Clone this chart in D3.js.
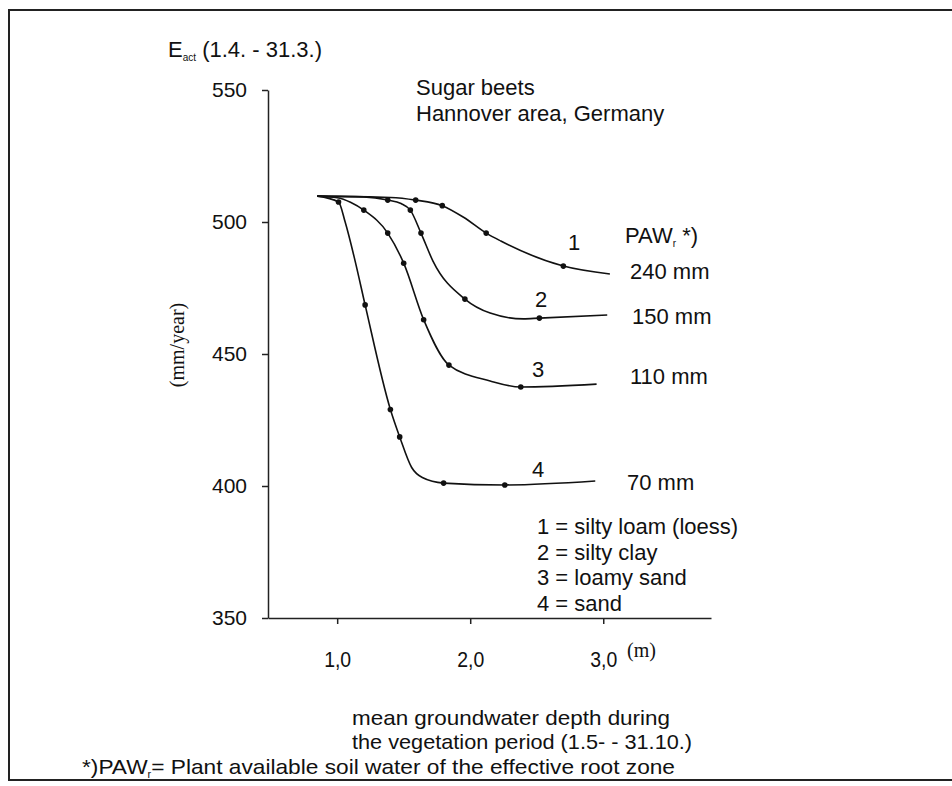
<!DOCTYPE html>
<html>
<head>
<meta charset="utf-8">
<script src="https://cdn.jsdelivr.net/npm/d3@7"></script>
<style>
  body { margin: 0; background: #fff; }
  svg { display: block; }
  .lbl { font-family: "Liberation Sans", Arial, sans-serif; font-size: 22px; fill: #111; }
  .narrow { font-family: "Liberation Sans", Arial, sans-serif; font-size: 21px; fill: #111; }
  .serif { font-family: "Liberation Serif", "Times New Roman", serif; font-size: 20px; fill: #111; }
</style>
</head>
<body>
<svg id="viz"></svg>
<script>
// soil types, curve number and plant available water
var curveIds = ["1", "2", "3", "4"];
var pawLabels = ["240 mm", "150 mm", "110 mm", "70 mm"];
var soilNames = ["silty loam (loess)", "silty clay", "loamy sand", "sand"];

var yTicks = [350, 400, 450, 500, 550];
var xTicks = [1, 2, 3];
var xTickLabels = ["1,0", "2,0", "3,0"];

// fitted curves
var curve1X = [0.85, 1.40, 1.59, 1.79, 1.95, 2.12, 2.23, 2.70, 3.05];
var curve1Y = [509.8, 509.3, 508.3, 506.2, 501.8, 495.8, 492.8, 483.3, 480.3];
var curve2X = [0.85, 1.20, 1.38, 1.48, 1.55, 1.63, 1.72, 1.96, 2.15, 2.40, 2.52, 3.03];
var curve2Y = [509.8, 509.5, 508.3, 507.0, 504.5, 495.8, 485.2, 470.8, 465.5, 463.3, 463.6, 464.8];
var curve3X = [0.85, 1.00, 1.10, 1.20, 1.38, 1.50, 1.65, 1.84, 2.15, 2.38, 2.95];
var curve3Y = [509.8, 509.2, 507.5, 504.5, 495.8, 484.4, 463.0, 445.8, 439.8, 437.5, 438.6];
var curve4X = [0.85, 1.01, 1.06, 1.135, 1.21, 1.40, 1.47, 1.56, 1.64, 1.80, 2.26, 2.94];
var curve4Y = [509.8, 507.6, 500.0, 485.2, 468.6, 429.0, 418.6, 407.0, 403.2, 401.1, 400.4, 401.9];

// measured points
var dots1X = [1.59, 1.79, 2.12, 2.70];
var dots1Y = [508.3, 506.2, 495.8, 483.3];
var dots2X = [1.38, 1.55, 1.63, 1.96, 2.52];
var dots2Y = [508.3, 504.5, 495.8, 470.8, 463.6];
var dots3X = [1.20, 1.38, 1.50, 1.65, 1.84, 2.38];
var dots3Y = [504.5, 495.8, 484.4, 463.0, 445.8, 437.5];
var dots4X = [1.01, 1.21, 1.40, 1.47, 1.80, 2.26];
var dots4Y = [507.6, 468.6, 429.0, 418.6, 401.1, 400.4];

function zipXY(xs, ys) {
    return xs.map(function(v, i) { return [v, ys[i]]; });
}

var curves = [zipXY(curve1X, curve1Y), zipXY(curve2X, curve2Y), zipXY(curve3X, curve3Y), zipXY(curve4X, curve4Y)];
var dots = [zipXY(dots1X, dots1Y), zipXY(dots2X, dots2Y), zipXY(dots3X, dots3Y), zipXY(dots4X, dots4Y)];

var width = 952;
var height = 786;

var svg = d3.select("#viz").attr("width", width).attr("height", height);

// frame (no right edge in the scan)
svg.append("path")
    .attr("d", "M952,10 L9,10 L9,780 L952,780")
    .attr("fill", "none")
    .attr("stroke", "#222")
    .attr("stroke-width", 2);

var x = d3.scaleLinear().domain([0.48, 3.81]).range([268, 711]);
var y = d3.scaleLinear().domain([350, 550]).range([618, 90]);

var yAxis = svg.append("g")
    .attr("transform", "translate(" + x(0.48) + ",0)")
    .call(d3.axisLeft(y).tickValues(yTicks).tickSize(6).tickSizeOuter(0).tickPadding(15));

var xAxis = svg.append("g")
    .attr("transform", "translate(0," + y(350) + ")")
    .call(d3.axisBottom(x).tickValues(xTicks).tickSize(6).tickSizeOuter(0).tickPadding(27)
        .tickFormat(function(d, i) { return xTickLabels[i]; }));

[yAxis, xAxis].forEach(function(ax) {
    ax.selectAll("path, line").attr("stroke", "#222").attr("stroke-width", 1.5);
    ax.selectAll("text").attr("fill", "#111")
        .style("font-family", "'Liberation Sans', Arial, sans-serif")
        .style("font-size", "21px");
});
xAxis.selectAll("text")
    .style("font-size", "22px")
    .attr("textLength", 27).attr("lengthAdjust", "spacingAndGlyphs");

var line = d3.line()
    .x(function(d) { return x(d[0]); })
    .y(function(d) { return y(d[1]); })
    .curve(d3.curveMonotoneX);

svg.append("g").selectAll("path")
    .data(curves)
    .enter()
    .append("path")
    .attr("d", line)
    .attr("fill", "none")
    .attr("stroke", "#111")
    .attr("stroke-width", 1.6);

svg.append("g").selectAll("g")
    .data(dots)
    .enter()
    .append("g")
    .selectAll("circle")
    .data(function(d) { return d; })
    .enter()
    .append("circle")
    .attr("cx", function(d) { return x(d[0]); })
    .attr("cy", function(d) { return y(d[1]); })
    .attr("r", 2.8)
    .attr("fill", "#111");

// y title with subscript
var yt = svg.append("text").attr("class", "lbl").attr("x", 168).attr("y", 57);
yt.append("tspan").text("E");
yt.append("tspan").attr("dy", 4).style("font-size", "10px").text("act");
yt.append("tspan").attr("dy", -4).text(" (1.4. - 31.3.)");

svg.append("text")
    .attr("class", "serif")
    .attr("transform", "translate(184,345) rotate(-90)")
    .attr("text-anchor", "middle")
    .text("(mm/year)");

svg.append("text").attr("class", "serif").attr("x", 627).attr("y", 657).text("(m)");

svg.append("text").attr("class", "lbl").attr("x", 416).attr("y", 95).text("Sugar beets");
svg.append("text").attr("class", "lbl").attr("x", 416).attr("y", 121).text("Hannover area, Germany");

// PAW header
var ph = svg.append("text").attr("class", "lbl").attr("x", 625).attr("y", 243);
ph.append("tspan").text("PAW");
ph.append("tspan").attr("dy", 4).style("font-size", "10px").text("r");
ph.append("tspan").attr("dy", -4).text(" *)");

var pawX = [630, 632, 630, 627];
var pawY = [279, 324, 384, 490];
var numX = [568, 535, 532, 532];
var numY = [250, 307, 377, 477];

svg.append("g").selectAll("text")
    .data(pawLabels)
    .enter()
    .append("text")
    .attr("class", "lbl")
    .attr("x", function(d, i) { return pawX[i]; })
    .attr("y", function(d, i) { return pawY[i]; })
    .text(function(d) { return d; });

svg.append("g").selectAll("text")
    .data(curveIds)
    .enter()
    .append("text")
    .attr("class", "lbl")
    .attr("x", function(d, i) { return numX[i]; })
    .attr("y", function(d, i) { return numY[i]; })
    .text(function(d) { return d; });

svg.append("g").selectAll("text")
    .data(soilNames)
    .enter()
    .append("text")
    .attr("class", "lbl")
    .attr("x", 537)
    .attr("y", function(d, i) { return 534 + i * 25.5; })
    .text(function(d, i) { return curveIds[i] + " = " + d; });

svg.append("text").attr("class", "narrow").attr("x", 352).attr("y", 725)
    .attr("textLength", 318).attr("lengthAdjust", "spacingAndGlyphs")
    .text("mean groundwater depth during");
svg.append("text").attr("class", "narrow").attr("x", 352).attr("y", 749)
    .attr("textLength", 340).attr("lengthAdjust", "spacingAndGlyphs")
    .text("the vegetation period (1.5- - 31.10.)");

var fn = svg.append("text").attr("class", "narrow").attr("x", 82).attr("y", 774);
fn.append("tspan").text("*)PAW");
fn.append("tspan").attr("dy", 4).style("font-size", "10px").text("r");
fn.append("tspan").attr("dy", -4).text("=  Plant available soil water of the effective root zone");
fn.attr("textLength", 593).attr("lengthAdjust", "spacingAndGlyphs");
</script>
</body>
</html>
